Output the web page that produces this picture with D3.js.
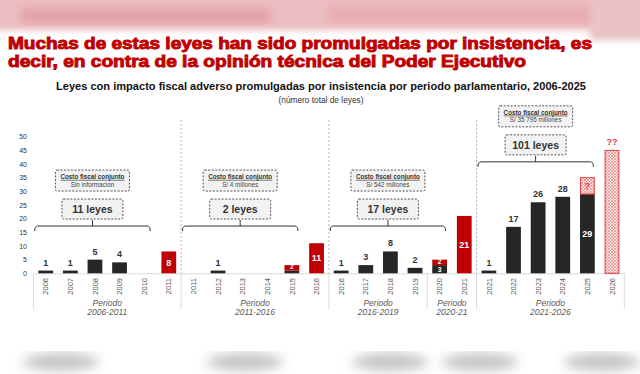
<!DOCTYPE html>
<html>
<head>
<meta charset="utf-8">
<script src="https://cdn.jsdelivr.net/npm/d3@7"></script>
<style>
body { margin: 0; background: #fff; }
svg { display: block; font-family: "Liberation Sans", Arial, sans-serif; }
</style>
</head>
<body>
<svg id="chart" width="640" height="374"></svg>
<script>
// datos
var years = ['2006', '2007', '2008', '2009', '2010', '2011',
    '2011', '2012', '2013', '2014', '2015', '2016',
    '2016', '2017', '2018', '2019', '2020', '2021',
    '2021', '2022', '2023', '2024', '2025', '2026'];
var blackVals = [1, 1, 5, 4, 0, 0, 0, 1, 0, 0, 1, 0, 1, 3, 8, 2, 3, 0, 1, 17, 26, 28, 29, 0];
var redVals = [0, 0, 0, 0, 0, 8, 0, 0, 0, 0, 2, 11, 0, 0, 0, 0, 2, 21, 0, 0, 0, 0, 0, 0];
var pendingVals = [0, 0, 0, 0, 0, 0, 0, 0, 0, 0, 0, 0, 0, 0, 0, 0, 0, 0, 0, 0, 0, 0, 6, 45];
var yTicks = [0, 5, 10, 15, 20, 25, 30, 35, 40, 45, 50];

var periodNames = ['2006-2011', '2011-2016', '2016-2019', '2020-21', '2021-2026'];
var periodFrom = [0, 6, 12, 16, 18];
var periodTo = [5, 11, 15, 17, 23];

var groupStart = [0, 6, 12, 18];
var groupLeyes = ['11 leyes', '2 leyes', '17 leyes', '101 leyes'];
var groupCosto = ['Sin información', 'S/ 4 millones', 'S/ 542 millones', 'S/ 35 795 millones'];
var groupLevel = [17.3, 17.3, 17.3, 40.8];

var titleLines = ['Muchas de estas leyes han sido promulgadas por insistencia, es',
    'decir, en contra de la opinión técnica del Poder Ejecutivo'];

var BLACK = '#262626', RED = '#c00000';

svg = d3.select('#chart');
defs = svg.append('defs');

defs.append('filter').attr('id', 'blur')
    .attr('x', '-20%').attr('y', '-50%').attr('width', '140%').attr('height', '200%')
    .append('feGaussianBlur').attr('stdDeviation', 3);
defs.append('filter').attr('id', 'blur2')
    .attr('x', '-30%').attr('y', '-100%').attr('width', '160%').attr('height', '300%')
    .append('feGaussianBlur').attr('stdDeviation', 6);

var hatch = defs.append('pattern').attr('id', 'hatch')
    .attr('patternUnits', 'userSpaceOnUse').attr('width', 3).attr('height', 3);
hatch.append('rect').attr('width', 3).attr('height', 3).attr('fill', '#fbe4e4');
hatch.append('path').attr('d', 'M0,3L3,0M0,0L3,3')
    .attr('stroke', '#e57a7a').attr('stroke-width', 0.6);

// banda rosada superior (borrosa)
var band = svg.append('g').attr('filter', 'url(#blur)');
band.append('rect').attr('x', -10).attr('y', -10).attr('width', 660).attr('height', 40).attr('fill', '#ebbcc0');
band.append('rect').attr('x', 20).attr('y', 8).attr('width', 250).attr('height', 16).attr('fill', '#e5a6ab');
band.append('rect').attr('x', 330).attr('y', 6).attr('width', 260).attr('height', 18).attr('fill', '#e7adb2');
band.append('rect').attr('x', 590).attr('y', -10).attr('width', 60).attr('height', 50).attr('fill', '#e9c3c5');

// sombras inferiores
var shadows = [61, 245, 390, 480, 602];
svg.append('g').attr('filter', 'url(#blur2)')
    .selectAll('ellipse').data(shadows).enter().append('ellipse')
    .attr('cx', function(d) { return d; })
    .attr('cy', 362).attr('rx', 38).attr('ry', 9)
    .attr('fill', '#c4c4c4');
svg.append('rect').attr('x', 0).attr('y', 330).attr('width', 640).attr('height', 21).attr('fill', '#fff');

// titulo
svg.selectAll('.title').data(titleLines).enter().append('text')
    .attr('class', 'title')
    .attr('x', 8)
    .attr('y', function(d, i) { return 48.5 + i * 18.5; })
    .attr('textLength', function(d, i) { return i == 0 ? 584 : 518; })
    .attr('lengthAdjust', 'spacingAndGlyphs')
    .attr('font-size', 16).attr('font-weight', 'bold')
    .attr('fill', RED).attr('stroke', RED).attr('stroke-width', 0.9)
    .text(function(d) { return d; });

svg.append('text')
    .attr('x', 321).attr('y', 90)
    .attr('text-anchor', 'middle')
    .attr('textLength', 530).attr('lengthAdjust', 'spacingAndGlyphs')
    .attr('font-size', 10.5).attr('font-weight', 'bold').attr('fill', '#111')
    .text('Leyes con impacto fiscal adverso promulgadas por insistencia por periodo parlamentario, 2006-2025');
svg.append('text')
    .attr('x', 321).attr('y', 103)
    .attr('text-anchor', 'middle')
    .attr('font-size', 8.3).attr('fill', '#333')
    .text('(número total de leyes)');

// escalas
var x = d3.scaleBand().domain(d3.range(years.length))
    .range([33.4, 624.3]).paddingInner(0.4).paddingOuter(0.2);
var y = d3.scaleLinear().domain([0, 50]).range([273.3, 136.7]);
var step = x.step();
function slotLeft(i) { return x(i) - x.paddingOuter() * step; }
function cx(i) { return x(i) + x.bandwidth() / 2; }

// eje y
var yAxis = svg.append('g')
    .attr('transform', 'translate(29,0)')
    .call(d3.axisLeft(y).tickValues(yTicks).tickSize(0).tickPadding(2));
yAxis.select('.domain').remove();
yAxis.selectAll('text').attr('font-size', 7).attr('fill', '#333')
    .attr('font-family', '"Liberation Sans", Arial, sans-serif');

// separadores punteados entre periodos
svg.selectAll('.sep').data([6, 12, 18]).enter().append('line')
    .attr('class', 'sep')
    .attr('x1', function(d) { return slotLeft(d); })
    .attr('x2', function(d) { return slotLeft(d); })
    .attr('y1', 120).attr('y2', y(0))
    .attr('stroke', '#aaa').attr('stroke-width', 0.8).attr('stroke-dasharray', '2,2');

// linea base y separadores de etiquetas
svg.append('line')
    .attr('x1', slotLeft(0)).attr('x2', slotLeft(23) + step)
    .attr('y1', y(0) + 0.5).attr('y2', y(0) + 0.5)
    .attr('stroke', '#d9d9d9').attr('stroke-width', 1);
var labelSeps = [0, 6, 12, 16, 18, 24];
svg.selectAll('.lsep').data(labelSeps).enter().append('line')
    .attr('class', 'lsep')
    .attr('x1', function(d) { return d < 24 ? slotLeft(d) : slotLeft(23) + step; })
    .attr('x2', function(d) { return d < 24 ? slotLeft(d) : slotLeft(23) + step; })
    .attr('y1', y(0)).attr('y2', 309)
    .attr('stroke', '#dcdcdc').attr('stroke-width', 1);

// barras
var idx = d3.range(years.length);
var bars = svg.append('g');

bars.selectAll('.black').data(idx.filter(function(i) { return blackVals[i] > 0; }))
    .enter().append('rect').attr('class', 'black')
    .attr('x', function(i) { return x(i); })
    .attr('width', x.bandwidth())
    .attr('y', function(i) { return y(blackVals[i]); })
    .attr('height', function(i) { return y(0) - y(blackVals[i]); })
    .attr('fill', BLACK);

bars.selectAll('.red').data(idx.filter(function(i) { return redVals[i] > 0; }))
    .enter().append('rect').attr('class', 'red')
    .attr('x', function(i) { return x(i); })
    .attr('width', x.bandwidth())
    .attr('y', function(i) { return y(blackVals[i] + redVals[i]); })
    .attr('height', function(i) { return y(blackVals[i]) - y(blackVals[i] + redVals[i]); })
    .attr('fill', RED);

bars.selectAll('.pend').data(idx.filter(function(i) { return pendingVals[i] > 0; }))
    .enter().append('rect').attr('class', 'pend')
    .attr('x', function(i) { return x(i) + 0.5; })
    .attr('width', x.bandwidth() - 1)
    .attr('y', function(i) { return y(blackVals[i] + pendingVals[i]); })
    .attr('height', function(i) { return y(blackVals[i]) - y(blackVals[i] + pendingVals[i]); })
    .attr('fill', 'url(#hatch)').attr('stroke', '#e03c3c').attr('stroke-width', 1);

// etiquetas de valores
var labels = svg.append('g').attr('font-size', 9).attr('font-weight', 'bold').attr('text-anchor', 'middle');

labels.selectAll('.lblTop').data(idx.filter(function(i) { return blackVals[i] > 0 && redVals[i] == 0 && pendingVals[i] == 0; }))
    .enter().append('text')
    .attr('x', cx).attr('y', function(i) { return y(blackVals[i]) - 5; })
    .attr('fill', '#333')
    .text(function(i) { return blackVals[i]; });

// segmentos pequenos: letra mas chica para que no se monten
function small(v) { return v < 4; }

labels.selectAll('.lblIn').data(idx.filter(function(i) { return blackVals[i] >= 3 && (redVals[i] > 0 || pendingVals[i] > 0); }))
    .enter().append('text')
    .attr('x', cx).attr('y', function(i) { return (y(0) + y(blackVals[i])) / 2 + (small(blackVals[i]) ? 0.8 : 0); })
    .attr('dy', '0.35em').attr('fill', '#fff')
    .attr('font-size', function(i) { return small(blackVals[i]) ? 6.8 : 9; })
    .text(function(i) { return blackVals[i]; });

labels.selectAll('.lblRed').data(idx.filter(function(i) { return redVals[i] > 0; }))
    .enter().append('text')
    .attr('x', cx).attr('y', function(i) { return (y(blackVals[i]) + y(blackVals[i] + redVals[i])) / 2 - (small(redVals[i]) ? 0.8 : 0); })
    .attr('dy', '0.35em').attr('fill', '#fff')
    .attr('font-size', function(i) { return small(redVals[i]) ? 6.8 : 9; })
    .text(function(i) { return redVals[i]; });

labels.selectAll('.lblPend').data(idx.filter(function(i) { return pendingVals[i] > 0; }))
    .enter().append('text')
    .attr('x', cx)
    .attr('y', function(i) {
        if (blackVals[i] > 0) return (y(blackVals[i]) + y(blackVals[i] + pendingVals[i])) / 2 + 3;
        return y(pendingVals[i]) - 5;
    })
    .attr('fill', '#e8323c')
    .text(function(i) { return blackVals[i] > 0 ? '?' : '??'; });

// etiquetas de anos
svg.append('g').selectAll('text').data(idx).enter().append('text')
    .attr('transform', function(i) { return 'translate(' + cx(i) + ',278) rotate(-90)'; })
    .attr('text-anchor', 'end').attr('dy', '0.35em')
    .attr('font-size', 7.5).attr('fill', '#555')
    .text(function(i) { return years[i]; });

// periodos
var per = svg.append('g').attr('text-anchor', 'middle').attr('font-style', 'italic')
    .attr('font-size', 8.5).attr('fill', '#595959');
per.selectAll('.p1').data(periodNames).enter().append('text')
    .attr('x', function(d, k) { return (cx(periodFrom[k]) + cx(periodTo[k])) / 2; })
    .attr('y', 305.5)
    .text('Periodo');
per.selectAll('.p2').data(periodNames).enter().append('text')
    .attr('x', function(d, k) { return (cx(periodFrom[k]) + cx(periodTo[k])) / 2; })
    .attr('y', 315)
    .text(function(d) { return d; });

// llaves y recuadros por periodo
var ann = svg.append('g');
groupStart.forEach(function(s, k) {
    var x0 = cx(s) - 11, x1 = cx(s + 4) + 6, xm = (x0 + x1) / 2;
    var yb = y(groupLevel[k]);
    ann.append('path')
        .attr('d', 'M' + x0 + ',' + (yb + 5) + 'Q' + x0 + ',' + yb + ' ' + (x0 + 3) + ',' + yb +
            'H' + (x1 - 3) + 'Q' + x1 + ',' + yb + ' ' + x1 + ',' + (yb + 5) +
            'M' + xm + ',' + yb + 'V' + (yb - 6))
        .attr('fill', 'none').attr('stroke', '#333').attr('stroke-width', 1);

    var ly = yb - 27;
    ann.append('rect')
        .attr('x', xm - 30.5).attr('y', ly).attr('width', 61).attr('height', 20).attr('rx', 1.5)
        .attr('fill', '#f2f2f2').attr('stroke', '#555').attr('stroke-width', 1)
        .attr('stroke-dasharray', '2,1.5');
    ann.append('text')
        .attr('x', xm).attr('y', ly + 10).attr('dy', '0.35em')
        .attr('text-anchor', 'middle').attr('font-size', 10.5).attr('font-weight', 'bold').attr('fill', '#333')
        .text(groupLeyes[k]);

    var cy = ly - 29;
    ann.append('rect')
        .attr('x', xm - 37).attr('y', cy).attr('width', 74).attr('height', 21).attr('rx', 1.5)
        .attr('fill', '#f2f2f2').attr('stroke', '#555').attr('stroke-width', 1)
        .attr('stroke-dasharray', '2,1.5');
    ann.append('text')
        .attr('x', xm).attr('y', cy + 8.8)
        .attr('text-anchor', 'middle').attr('font-size', 6.3).attr('font-weight', 'bold')
        .attr('fill', '#333').attr('text-decoration', 'underline')
        .text('Costo fiscal conjunto');
    ann.append('text')
        .attr('x', xm).attr('y', cy + 16.5)
        .attr('text-anchor', 'middle').attr('font-size', 6.3).attr('fill', '#444')
        .text(groupCosto[k]);
});
</script>
</body>
</html>
